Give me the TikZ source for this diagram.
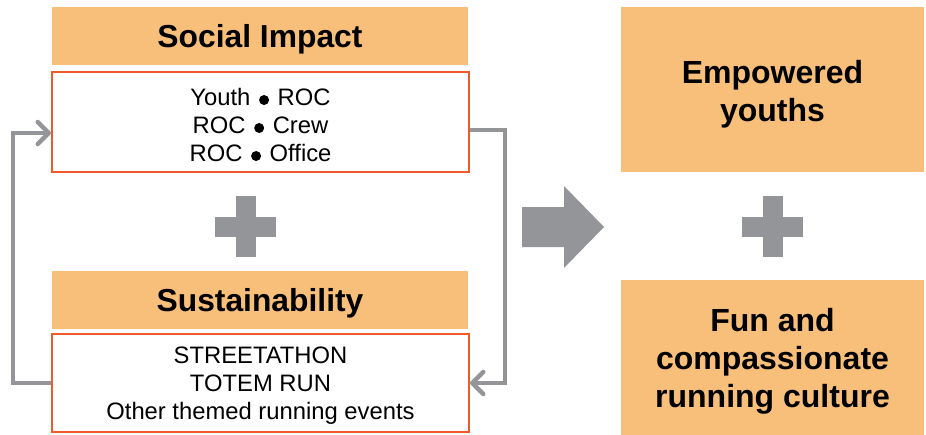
\documentclass[tikz,border=0pt]{standalone}
\usepackage{fontspec}
\setmainfont{Liberation Sans}
\usetikzlibrary{arrows.meta}
\definecolor{boxorange}{HTML}{F8BF7B}
\definecolor{lineorange}{HTML}{F05A28}
\definecolor{arrgray}{HTML}{939598}
\newcommand{\bul}{\ \hspace{2pt}\tikz[baseline=0pt]\fill (0,5pt) circle (5pt);\hspace{2pt}\ }
\begin{document}
\begin{tikzpicture}[x=1pt,y=-1pt,
  head/.style={fill=boxorange,minimum width=416pt,minimum height=58pt,inner sep=0pt},
  headtext/.style={inner sep=0pt,font=\fontsize{31.8}{36}\selectfont\bfseries},
  listbox/.style={draw=lineorange,line width=2pt,fill=white,minimum width=417pt,inner sep=0pt},
  listtext/.style={inner sep=0pt,align=center,font=\fontsize{23.8}{28}\selectfont},
  result/.style={fill=boxorange,minimum width=303pt,inner sep=0pt},
  resulttext/.style={inner sep=0pt,align=center,font=\fontsize{32}{38}\selectfont\bfseries},
  loop/.style={draw=arrgray,line width=4.5pt,-{Straight Barb[length=11pt,width=22pt,line width=4.5pt,round]}},
  plusfill/.style={fill=arrgray}]
\useasboundingbox (0,0) rectangle (926,434);
\node[head] (sihead) at (260,36) {};
\node[headtext] (sihtext) at ([yshift=-3pt]sihead.center) {Social Impact};
\node[listbox,minimum height=100pt] (sibox) at (260.5,122) {};
\node[listtext] (sitext) at ([yshift=-2.5pt]sibox.center) {Youth\bul ROC\\ROC\bul Crew\\ROC\bul Office};
\node[head] (suhead) at (260,300) {};
\node[headtext] (suhtext) at ([yshift=-3.5pt]suhead.center) {Sustainability};
\node[listbox,minimum height=98pt] (subox) at (260.5,383) {};
\node[listtext] (sutext) at ([yshift=-2.5pt]subox.center) {STREETATHON\\TOTEM RUN\\Other themed running events};
\node[result,minimum height=165pt] (emp) at (772.5,89.5) {};
\node[resulttext] (emptext) at ([yshift=-4.5pt]emp.center) {Empowered\\youths};
\node[result,minimum height=156pt] (fun) at (772.5,358) {};
\node[resulttext] (funtext) at ([yshift=-3.5pt]fun.center) {Fun and\\compassionate\\running culture};
% plus signs
\fill[plusfill] (215,217) rectangle (276,237);
\fill[plusfill] (236,196) rectangle (256,257);
\fill[plusfill] (742,217) rectangle (803,237);
\fill[plusfill] (763,196) rectangle (783,257);
% big arrow
\fill[arrgray] (522,207) -- (564,207) -- (564,186) -- (604,227) -- (564,268) -- (564,247) -- (522,247) -- cycle;
% loop connectors
\coordinate (lc1) at (13,383);
\coordinate (lc2) at (13,133);
\coordinate (lc3) at (51,133);
\draw[loop] (subox.west) -- (lc1) -- (lc2) -- (lc3);
\coordinate (rc0) at (470,130);
\coordinate (rc1) at (505,130);
\coordinate (rc2) at (505,383);
\draw[loop] (rc0) -- (rc1) -- (rc2) -- (subox.east);
\end{tikzpicture}
\end{document}
